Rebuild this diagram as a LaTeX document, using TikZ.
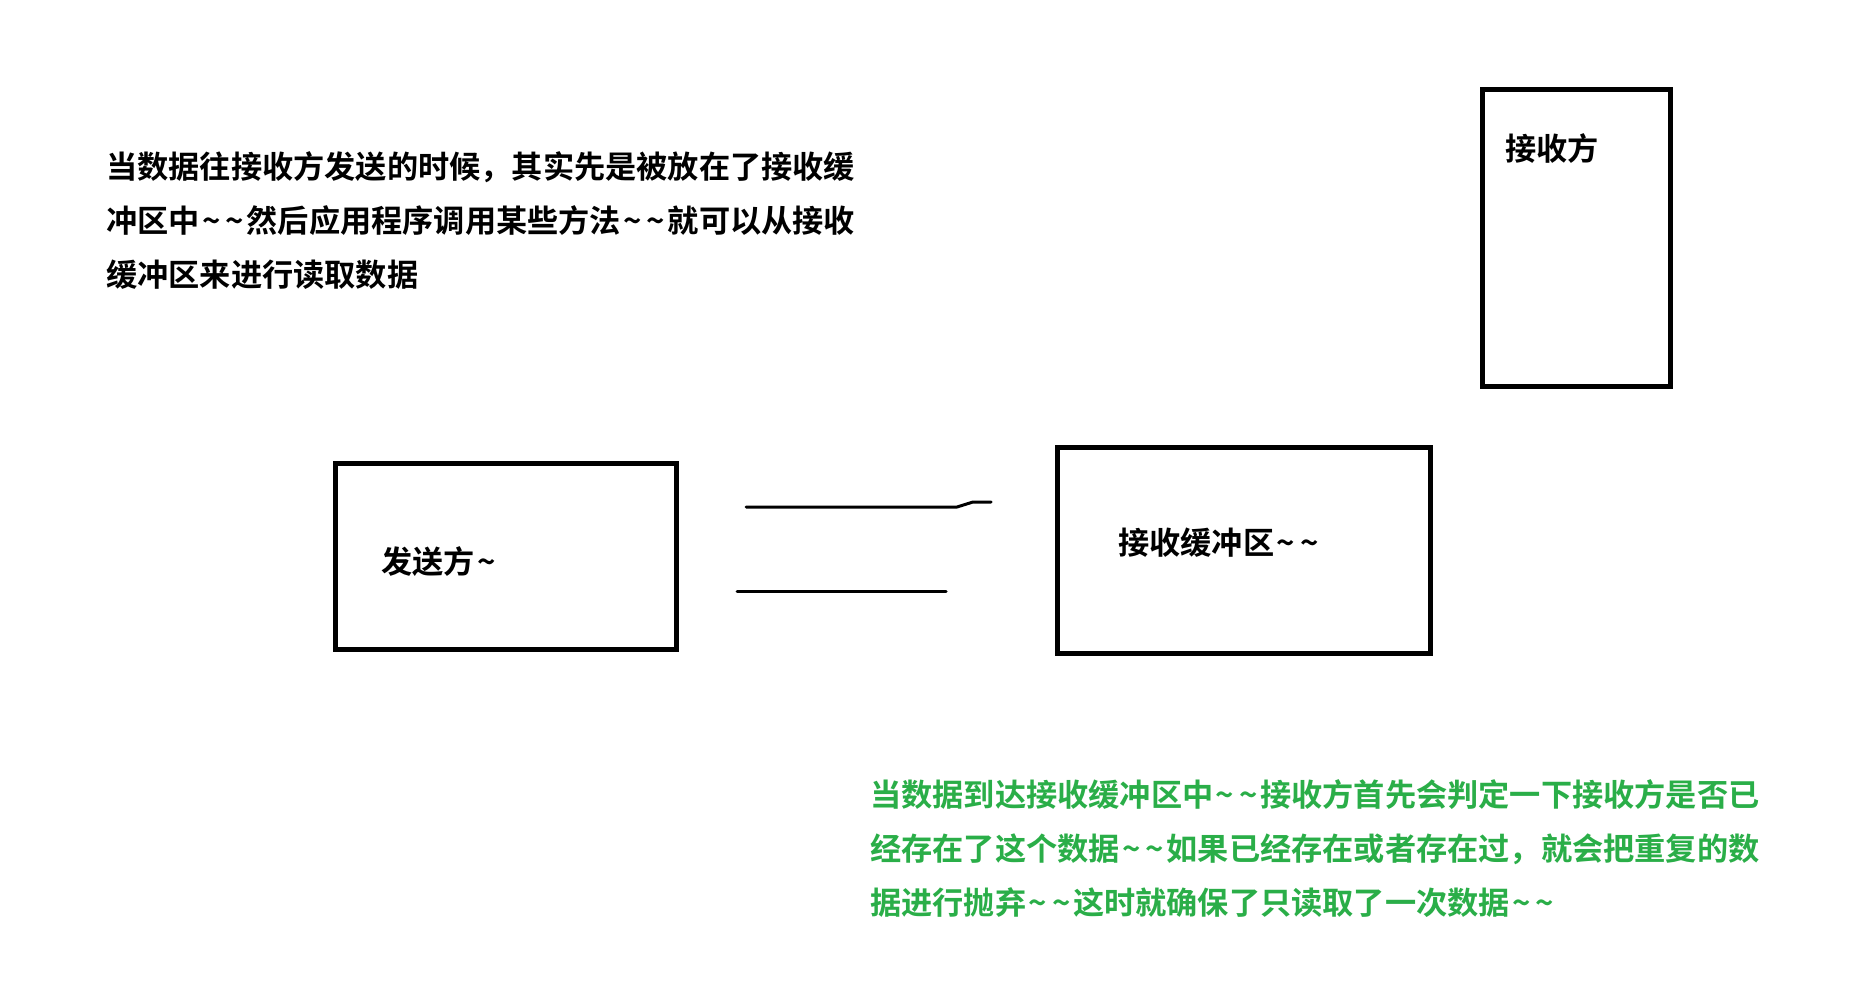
\documentclass[tikz,border=0pt]{standalone}
\usepackage{fontspec}
\newfontfamily\cjk[BoldFont={Noto Sans CJK SC Bold}]{Noto Sans CJK SC}
\definecolor{notegreen}{RGB}{42,174,72}
\newcommand\tld{\kern2.5pt\char"007E\kern2.5pt}
\begin{document}
\begin{tikzpicture}[x=1pt,y=-1pt,
  box/.style={draw=black,line width=5pt,inner sep=0pt},
  lbl/.style={font=\cjk\bfseries\fontsize{31.2}{54}\selectfont,inner sep=0pt,anchor=base west},
  para/.style={font=\cjk\bfseries\fontsize{31.2}{54}\selectfont,inner sep=0pt,anchor=north west,align=left},
  wire/.style={line width=3pt,line cap=round,line join=round}]
\useasboundingbox (0,0) rectangle (1863,985);
\fill[white] (0,0) rectangle (1863,985);
% boxes
\draw[box] (1482,89) rectangle (1670,386);
\node[lbl] (recv) at (1505,160) {接收方};
\draw[box] (335,463) rectangle (676,649);
\node[lbl] (send) at (381,573) {发送方\tld};
\draw[box] (1057,447) rectangle (1430,653);
\node[lbl] (buf) at (1118,554) {接收缓冲区\tld\tld};
% lines
\coordinate (a1) at (746,507);
\coordinate (a2) at (957,507);
\coordinate (a3) at (973,502);
\coordinate (a4) at (991,502);
\draw[wire] (a1) -- (a2) -- (a3) -- (a4);
\coordinate (b1) at (737,591);
\coordinate (b2) at (946,591);
\draw[wire] (b1) -- (b2);
% paragraphs
\node[para] (p1) at (106,151) {当数据往接收方发送的时候，其实先是被放在了接收缓\\冲区中\tld\tld 然后应用程序调用某些方法\tld\tld 就可以从接收\\缓冲区来进行读取数据};
\node[para,text=notegreen] (p2) at (870,779) {当数据到达接收缓冲区中\tld\tld 接收方首先会判定一下接收方是否已\\经存在了这个数据\tld\tld 如果已经存在或者存在过，就会把重复的数\\据进行抛弃\tld\tld 这时就确保了只读取了一次数据\tld\tld};
\end{tikzpicture}
\end{document}
